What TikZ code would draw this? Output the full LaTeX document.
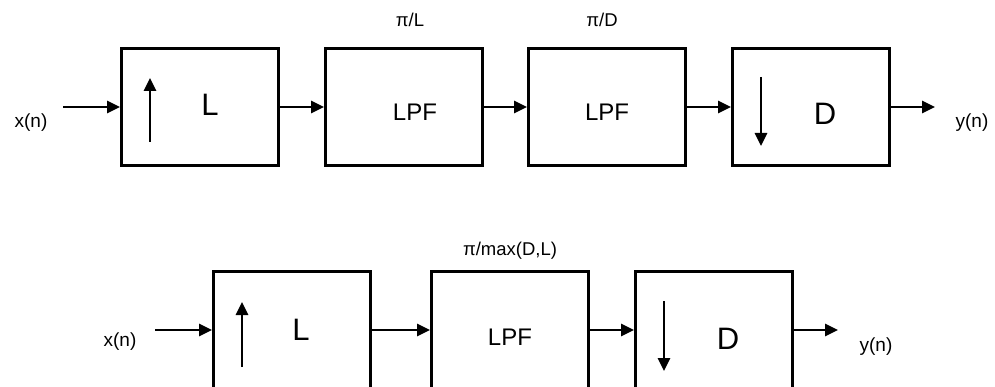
\documentclass[tikz,border=0pt]{standalone}
\usepackage{fontspec}
\setmainfont{Liberation Sans}
\usetikzlibrary{arrows.meta,calc}

\tikzset{
  blk/.style={draw, line width=3pt, minimum width=157pt, minimum height=117pt, inner sep=0pt},
  sig/.style={line width=2.8pt, -{Triangle[length=13pt,width=12pt]}},
  txt/.style={font=\fontsize{19}{22}\selectfont, inner sep=0pt},
  sm/.style={font=\fontsize{18.5}{22}\selectfont, inner sep=0pt},
  mid/.style={font=\fontsize{24}{28}\selectfont, inner sep=0pt},
  big/.style={font=\fontsize{31}{36}\selectfont, inner sep=0pt},
}

\begin{document}
\begin{tikzpicture}[x=1pt,y=-1pt]
            \useasboundingbox (0,0) rectangle (995,387);
            % separate filters
            \node[blk] (up1) at (200,107) {};
            \node[blk] (lpf1) at (404,107) {};
            \node[blk] (lpf2) at (607,107) {};
            \node[blk] (down1) at (811,107) {};
            \node[big] (upL1) at (210,105) {L};
            \node[mid] (lpfA) at (415,112) {LPF};
            \node[mid] (lpfB) at (607,112) {LPF};
            \node[big] (downD1) at (825,114) {D};
            \node[sm] (cut1) at (410,20) {π/L};
            \node[sm] (cut2) at (602,20) {π/D};
            \node[txt] (x1) at (31,123) {x(n)};
            \node[txt] (y1) at (972,123) {y(n)};
            \coordinate (in1) at (63,107);
            \coordinate (out1) at (935,107);
            \draw[sig] (in1) -- (up1);
            \draw[sig] (up1) -- (lpf1);
            \draw[sig] (lpf1) -- (lpf2);
            \draw[sig] (lpf2) -- (down1);
            \draw[sig] (down1) -- (out1);
            \draw[sig] ($(up1.west)+(30,35)$) -- ($(up1.west)+(30,-29)$);
            \draw[sig] ($(down1.west)+(30,-30)$) -- ($(down1.west)+(30,39)$);
            % one combined filter
            \node[blk] (up2) at (292,330) {};
            \node[blk] (lpf3) at (510,330) {};
            \node[blk] (down2) at (714,330) {};
            \node[big] (upL2) at (301,330) {L};
            \node[mid] (lpfC) at (510,337) {LPF};
            \node[big] (downD2) at (728,339) {D};
            \node[sm] (cut3) at (510,251) {π/max(D,L)};
            \node[txt] (x2) at (120,342) {x(n)};
            \node[txt] (y2) at (876,347) {y(n)};
            \coordinate (in2) at (155,330);
            \coordinate (out2) at (838,330);
            \draw[sig] (in2) -- (up2);
            \draw[sig] (up2) -- (lpf3);
            \draw[sig] (lpf3) -- (down2);
            \draw[sig] (down2) -- (out2);
            \draw[sig] ($(up2.west)+(30,37)$) -- ($(up2.west)+(30,-28)$);
            \draw[sig] ($(down2.west)+(30,-29)$) -- ($(down2.west)+(30,41)$);
\end{tikzpicture}
\end{document}
